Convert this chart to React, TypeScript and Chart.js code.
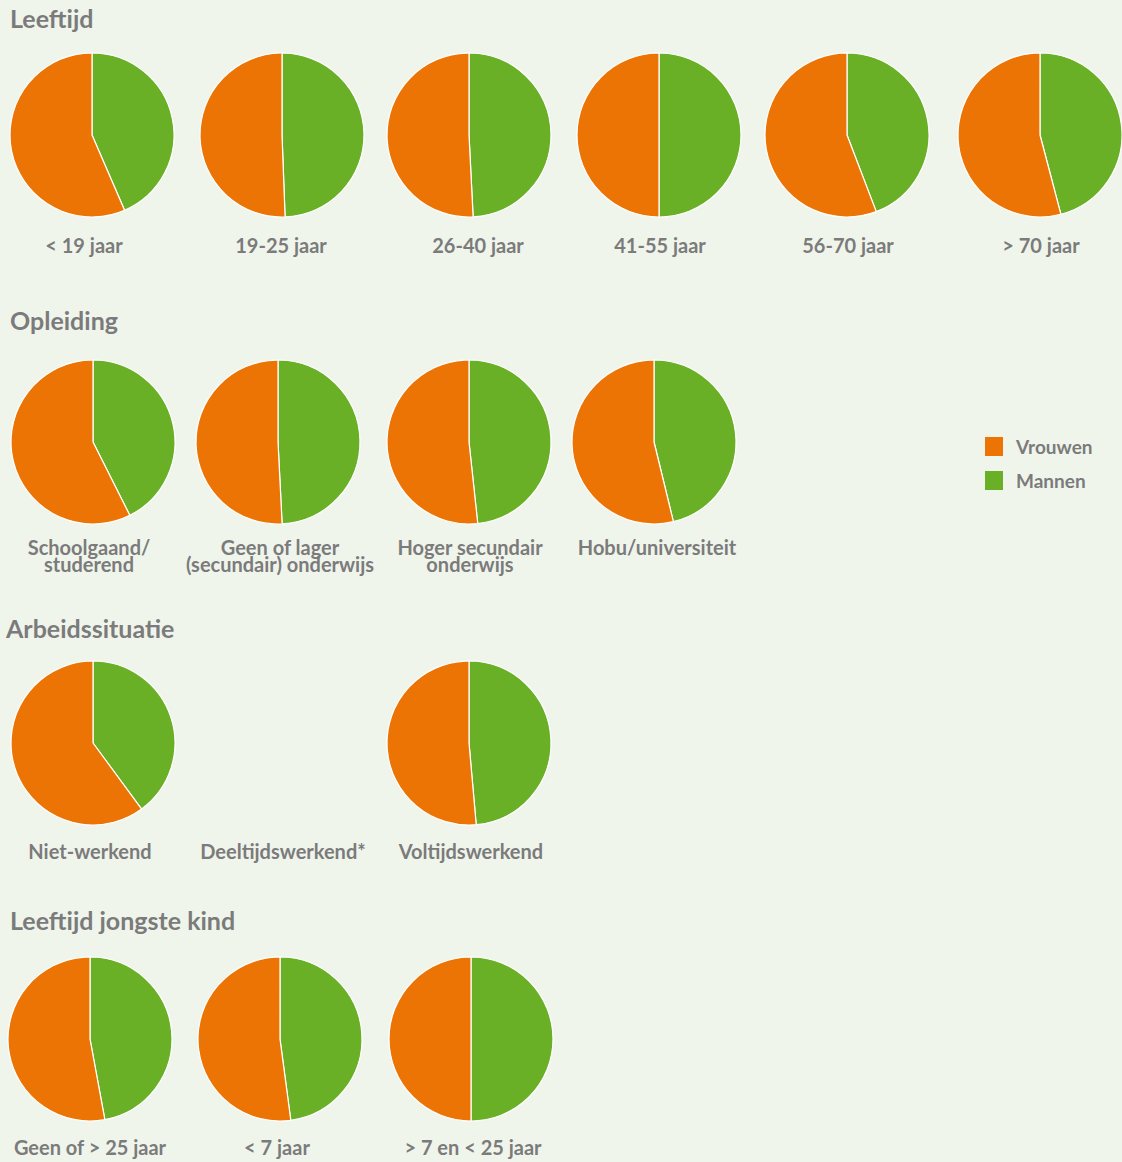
import React, { useEffect, useRef } from "react";
import { Chart, registerables } from "chart.js";

Chart.register(...registerables);

// ---- Data ----
const seriesNames = ["Mannen", "Vrouwen"];

const leeftijdLabels = ["< 19 jaar", "19-25 jaar", "26-40 jaar", "41-55 jaar", "56-70 jaar", "> 70 jaar"];
const leeftijdMannen = [43.5, 49.4, 49.2, 50, 44.2, 45.9];
const leeftijdVrouwen = [56.5, 50.6, 50.8, 50, 55.8, 54.1];

const opleidingLabels = ["Schoolgaand/\nstuderend", "Geen of lager\n(secundair) onderwijs", "Hoger secundair\nonderwijs", "Hobu/universiteit"];
const opleidingMannen = [42.6, 49.2, 48.3, 46.2];
const opleidingVrouwen = [57.4, 50.8, 51.7, 53.8];

const arbeidLabels = ["Niet-werkend", "Deeltijdswerkend*", "Voltijdswerkend"];
const arbeidMannen: (number | null)[] = [39.9, null, 48.6];
const arbeidVrouwen: (number | null)[] = [60.1, null, 51.4];

const kindLabels = ["Geen of > 25 jaar", "< 7 jaar", "> 7 en < 25 jaar"];
const kindMannen = [47.1, 47.9, 50];
const kindVrouwen = [52.9, 52.1, 50];

const groupTitles = ["Leeftijd", "Opleiding", "Arbeidssituatie", "Leeftijd jongste kind"];

// ---- Style / layout ----
const ORANGE = "#ec7405";
const GREEN = "#6ab026";
const TEXT = "#7b7b7b";
const BG = "#f0f5ec";
const FONT = "Lato, 'Noto Sans', sans-serif";
const R = 82;
const BOX = 180;

type Group = {
  title: string;
  titleX: number;
  titleY: number;
  cy: number;
  labelY: number;
  labels: string[];
  mannen: (number | null)[];
  vrouwen: (number | null)[];
  pieX: number[];
  labelX: number[];
};

const groups: Group[] = [
  {
    title: groupTitles[0], titleX: 10, titleY: 18, cy: 135, labelY: 246,
    labels: leeftijdLabels, mannen: leeftijdMannen, vrouwen: leeftijdVrouwen,
    pieX: [92, 282, 469, 659, 847, 1040], labelX: [84, 281, 478, 660, 848, 1041],
  },
  {
    title: groupTitles[1], titleX: 10, titleY: 320, cy: 442, labelY: 548,
    labels: opleidingLabels, mannen: opleidingMannen, vrouwen: opleidingVrouwen,
    pieX: [93, 278, 469, 654], labelX: [89, 280, 470, 657],
  },
  {
    title: groupTitles[2], titleX: 6, titleY: 628, cy: 743, labelY: 852,
    labels: arbeidLabels, mannen: arbeidMannen, vrouwen: arbeidVrouwen,
    pieX: [93, 281, 469], labelX: [90, 283, 471],
  },
  {
    title: groupTitles[3], titleX: 10, titleY: 920, cy: 1039, labelY: 1148,
    labels: kindLabels, mannen: kindMannen, vrouwen: kindVrouwen,
    pieX: [90, 280, 471], labelX: [90, 277, 473],
  },
];

function Pie({ m, v, cx, cy }: { m: number; v: number; cx: number; cy: number }) {
  const ref = useRef<HTMLCanvasElement | null>(null);
  useEffect(() => {
    if (!ref.current) return;
    const chart = new Chart(ref.current, {
      type: "pie",
      data: {
        labels: seriesNames,
        datasets: [
          {
            data: [m, v],
            backgroundColor: [GREEN, ORANGE],
            borderColor: "#ffffff",
            borderWidth: 1.2,
            radius: R,
          } as any,
        ],
      },
      options: {
        responsive: false,
        animation: false,
        layout: { padding: 0 },
        plugins: { legend: { display: false }, tooltip: { enabled: false } },
        events: [],
      },
    });
    return () => chart.destroy();
  }, [m, v]);
  return (
    <div style={{ position: "absolute", left: cx - BOX / 2, top: cy - BOX / 2, width: BOX, height: BOX }}>
      <canvas ref={ref} width={BOX} height={BOX} style={{ width: BOX, height: BOX }} />
    </div>
  );
}

export default function App() {
  useEffect(() => {
    document.body.style.margin = "0";
    document.body.style.background = BG;
  }, []);
  return (
    <div style={{ position: "absolute", left: 0, top: 0, width: 1122, height: 1162, background: BG, fontFamily: FONT, color: TEXT, overflow: "hidden" }}>
      {groups.map((g, gi) => (
        <React.Fragment key={gi}>
          <div style={{ position: "absolute", left: g.titleX, top: g.titleY - 15, fontSize: 25, fontWeight: 700, lineHeight: "30px", whiteSpace: "nowrap" }}>
            {g.title}
          </div>
          {g.labels.map((lab, i) => {
            const m = g.mannen[i];
            const v = g.vrouwen[i];
            const lines = lab.split("\n");
            return (
              <React.Fragment key={i}>
                {m !== null && v !== null ? <Pie m={m} v={v} cx={g.pieX[i]} cy={g.cy} /> : null}
                <div style={{ position: "absolute", left: g.labelX[i] - 120, width: 240, top: g.labelY - 9, textAlign: "center", fontSize: 20, fontWeight: 700, lineHeight: "17px", whiteSpace: "nowrap" }}>
                  {lines.map((l, k) => (
                    <div key={k}>{l}</div>
                  ))}
                </div>
              </React.Fragment>
            );
          })}
        </React.Fragment>
      ))}
      {[
        { name: "Vrouwen", color: ORANGE, y: 447 },
        { name: "Mannen", color: GREEN, y: 481 },
      ].map((it) => (
        <React.Fragment key={it.name}>
          <div style={{ position: "absolute", left: 985, top: it.y - 10, width: 18, height: 19, background: it.color }} />
          <div style={{ position: "absolute", left: 1016, top: it.y - 11, fontSize: 19, fontWeight: 700, lineHeight: "22px", whiteSpace: "nowrap" }}>{it.name}</div>
        </React.Fragment>
      ))}
    </div>
  );
}
